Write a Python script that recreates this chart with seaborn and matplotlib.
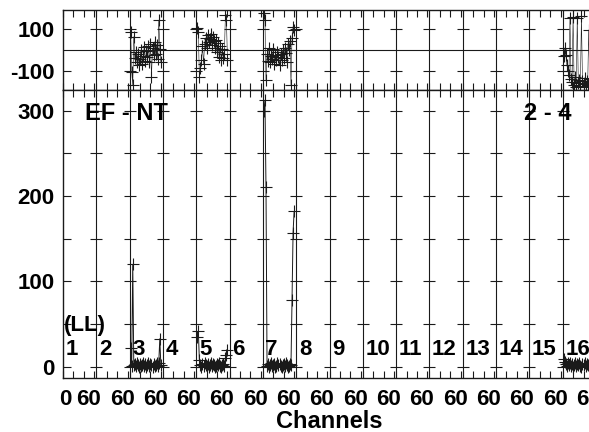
import numpy as np
import pandas as pd
import matplotlib
matplotlib.use('Agg')
import matplotlib.pyplot as plt
import matplotlib.transforms as mtrans
import seaborn as sns

# 16 baseline segments of 64 channels each
n_seg = 16
seg_len = 64
chan = [2, 4, 6, 8, 10, 12, 14, 16, 18, 20, 22, 24, 26, 28, 30,
        32, 34, 36, 38, 40, 42, 44, 46, 48, 50, 52, 54, 56, 58, 60]
active_segs = [3, 5, 7, 16]

# amplitude per active segment
amp_3 = [22, 1, 120, 2, 3, 1, 4, 2, 0, 3, 1, 2, 4, 1, 3, 0, 2, 4, 1, 3, 2, 0, 3, 1, 2, 4, 1, 5, 33, 2]
amp_5 = [35, 42, 8, 2, 0, 3, 1, 4, 2, 1, 3, 0, 2, 4, 1, 3, 2, 0, 1, 3, 2, 4, 1, 0, 2, 3, 1, 10, 14, 20]
amp_7 = [300, 312, 210, 1, 3, 0, 2, 4, 1, 2, 3, 0, 1, 4, 2, 3, 1, 0, 2, 3, 1, 4, 2, 0, 1, 3, 2, 78, 157, 182]
amp_16 = [9, 6, 3, 1, 4, 2, 5, 1, 3, 0, 2, 4, 1, 3, 2, 5, 1, 0, 3, 2, 4, 1, 3, 2, 1, 4, 2, 3, 1, 2]

# phase per active segment (degrees)
ph_3 = [90, -105, -170, 65, -40, -10, -60, -20, -75, -45, 0, -70, -30, 15, -55,
        -5, -35, 20, -60, 30, -130, 10, -25, 40, -20, 25, -45, 146, 5, -60]
ph_5 = [107, 90, -130, -88, -50, 20, -70, 30, 60, 10, 75, 40, 55, 80, 25,
        65, 45, 10, 50, -10, 35, -35, 20, -50, 5, -40, -20, 170, 146, -50]
ph_7 = [180, 146, -146, -20, -55, 10, -60, -30, -45, 5, -70, -25, -50, -10, -35,
        -75, -20, -50, 0, -40, 10, -15, -60, 30, 0, 45, -170, 60, 114, 98]
ph_16 = [-30, 10, -24, -73, -100, -122, 156, -140, -155, 160, -170, -130, -178, 156, -160,
         -145, -175, 165, -150, -165, -135, -178, -150, -170, 98, -160, -140, -175, -150, -165]

amps = [amp_3, amp_5, amp_7, amp_16]
phases = [ph_3, ph_5, ph_7, ph_16]

rows = []
for s, a, p in zip(active_segs, amps, phases):
    for c, av, pv in zip(chan, a, p):
        rows.append({'seg': s, 'x': (s - 1) * seg_len + c, 'amp': av, 'phase': pv})
df = pd.DataFrame(rows)

seg_labels = [str(i) for i in range(1, n_seg + 1)]
bounds = [i * seg_len for i in range(1, n_seg)]

sns.set_theme(style='white')
plt.rcParams['font.family'] = ['Liberation Sans', 'DejaVu Sans']
plt.rcParams['font.weight'] = 'bold'
plt.rcParams['axes.unicode_minus'] = False
for key in ['text.color', 'axes.labelcolor', 'xtick.color', 'ytick.color', 'axes.edgecolor']:
    plt.rcParams[key] = 'black'

fig = plt.figure(figsize=(5.89, 4.32), dpi=100)
W, H = 589, 432
ax_ph = fig.add_axes([63 / W, 1 - 90 / H, 533 / W, 80 / H])
ax_amp = fig.add_axes([63 / W, 1 - 378 / H, 533 / W, 288 / H])

line_kw = dict(color='k', marker='+', markersize=8, markeredgewidth=0.8,
               markeredgecolor='k', estimator=None, sort=False, legend=False)
sns.lineplot(data=df, x='x', y='phase', units='seg', ax=ax_ph, lw=0.4, **line_kw)
sns.lineplot(data=df, x='x', y='amp', units='seg', ax=ax_amp, lw=0.7, **line_kw)

for ax in (ax_ph, ax_amp):
    ax.set_xlim(0, n_seg * seg_len)
    for b in bounds:
        ax.axvline(b, color='k', lw=0.8, zorder=1)
    for sp in ax.spines.values():
        sp.set_color('k')
        sp.set_linewidth(1)
    ax.spines['right'].set_visible(False)
    ax.set_xlabel('')
    ax.set_ylabel('')
    ax.set_xticks([0] + [i * seg_len + 60 for i in range(n_seg)])
    ax.set_xticks([i * seg_len + m for i in range(n_seg) for m in (20, 40, 64)], minor=True)
    ax.tick_params(axis='x', which='both', direction='in', top=True, bottom=True,
                   length=5, width=0.8, color='k')
    ax.tick_params(axis='y', which='both', direction='in', left=True, right=False,
                   length=6, width=0.8, color='k', labelsize=16, pad=6)

# phase panel
ax_ph.set_ylim(-195, 195)
ax_ph.set_yticks([-100, 100])
ax_ph.axhline(0, color='k', lw=0.8, zorder=1)
for yv in [-100, 100]:
    ax_ph.plot(bounds, [yv] * len(bounds), ls='none', marker='_', ms=9, mew=0.8, color='k')
ax_ph.tick_params(axis='x', labelbottom=False)

# amplitude panel
ax_amp.set_ylim(-13, 324)
ax_amp.set_yticks([0, 100, 200, 300])
ax_amp.set_yticks([50, 150, 250], minor=True)
for yv in [0, 50, 100, 150, 200, 250, 300]:
    ax_amp.plot(bounds, [yv] * len(bounds), ls='none', marker='_', ms=9, mew=0.8, color='k')
ax_amp.set_xticklabels(['0'] + ['60'] * n_seg)
ax_amp.tick_params(axis='x', labelsize=16, pad=8)
for i, lbl in enumerate(ax_amp.xaxis.get_majorticklabels()):
    dx = 2 if i == 0 else -5.5
    lbl.set_transform(lbl.get_transform() + mtrans.ScaledTranslation(dx / 100, 0, fig.dpi_scale_trans))
ax_amp.set_xlabel('Channels', fontsize=17, weight='bold', labelpad=0)

ax_amp.text(43, 296, 'EF - NT', fontsize=17, weight='bold', va='center', ha='left')
ax_amp.text(885, 296, '2 - 4', fontsize=17, weight='bold', va='center', ha='left')
ax_amp.text(1, 48, '(LL)', fontsize=16, weight='bold', va='center', ha='left')
for i, s in enumerate(seg_labels):
    ax_amp.text(i * seg_len + 5, 20, s, fontsize=16, weight='bold', va='center', ha='left')

fig.savefig('out.png', dpi=100)
